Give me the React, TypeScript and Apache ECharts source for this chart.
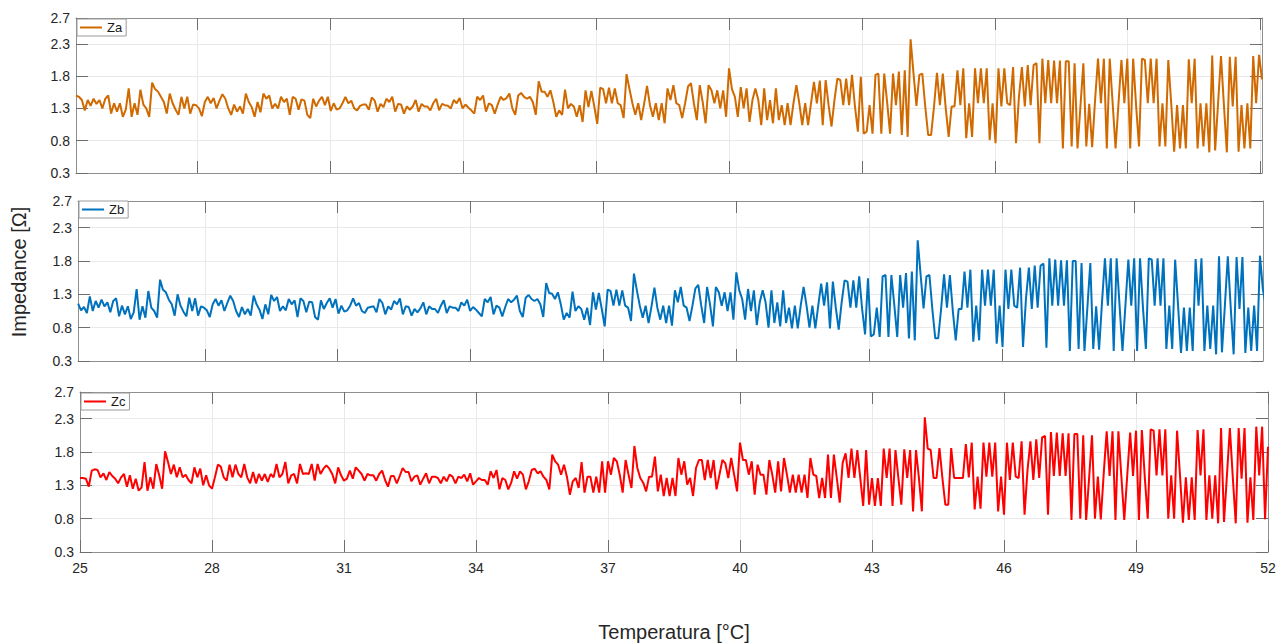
import React, { useEffect, useRef } from "react";
import * as echarts from "echarts";

// ---- tick labels ----
const xTicksA = [28, 31, 34, 37, 40, 43, 46, 49, 52];
const xTicksB = [28, 31, 34, 37, 40, 43, 46, 49];
const xTicksC = [25, 28, 31, 34, 37, 40, 43, 46, 49, 52];

// visible temperature range of each panel [°C]
const rangeA = [25.27, 52.03];
const rangeB = [25.135, 51.9];
const rangeC = [25, 52];

const seriesNames = ["Za", "Zb", "Zc"];

// ---- values, 15 samples per °C (each row = 1 °C) ----
const za = [
  1.50,1.48,1.43,1.27,1.43,1.34,1.45,1.37,1.43,1.30,1.45,1.50,1.22,1.38,1.25,
  1.38,1.17,1.28,1.61,1.17,1.38,1.20,1.59,1.36,1.30,1.17,1.70,1.60,1.56,1.48,
  1.40,1.22,1.53,1.38,1.28,1.20,1.48,1.30,1.48,1.22,1.36,1.35,1.30,1.18,1.40,
  1.48,1.38,1.46,1.30,1.42,1.52,1.45,1.30,1.20,1.36,1.25,1.33,1.22,1.53,1.40,
  1.32,1.17,1.40,1.24,1.53,1.45,1.50,1.30,1.37,1.30,1.48,1.40,1.45,1.20,1.48,
  1.45,1.28,1.44,1.42,1.20,1.15,1.45,1.33,1.42,1.48,1.35,1.48,1.26,1.38,1.28,
  1.30,1.38,1.48,1.38,1.42,1.30,1.27,1.34,1.36,1.36,1.28,1.47,1.42,1.25,1.37,
  1.32,1.45,1.40,1.48,1.25,1.37,1.36,1.22,1.33,1.28,1.33,1.43,1.25,1.37,1.33,
  1.33,1.27,1.38,1.45,1.27,1.37,1.35,1.34,1.30,1.43,1.38,1.46,1.30,1.36,1.31,
  1.27,1.22,1.48,1.43,1.50,1.25,1.38,1.35,1.22,1.36,1.48,1.43,1.46,1.53,1.30,
  1.20,1.50,1.54,1.48,1.45,1.48,1.40,1.20,1.72,1.56,1.56,1.48,1.58,1.40,1.17,
  1.27,1.20,1.59,1.30,1.37,1.33,1.17,1.35,1.09,1.58,1.32,1.57,1.33,1.06,1.62,
  1.60,1.38,1.62,1.38,1.61,1.38,1.35,1.15,1.83,1.60,1.38,1.20,1.38,1.12,1.37,
  1.65,1.35,1.17,1.38,1.12,1.38,1.07,1.61,1.43,1.66,1.38,1.35,1.15,1.38,1.64,
  1.69,1.38,1.12,1.66,1.40,1.07,1.66,1.58,1.38,1.58,1.30,1.58,1.17,1.92,1.60,
  1.48,1.17,1.63,1.30,1.61,1.09,1.43,1.61,1.43,1.04,1.61,1.12,1.43,1.07,1.61,
  1.12,1.35,1.04,1.38,1.04,1.38,1.66,1.38,1.04,1.38,1.04,1.38,1.71,1.38,1.73,
  1.04,1.74,1.35,1.02,1.43,1.76,1.74,1.35,1.76,1.35,1.82,1.33,0.94,1.79,0.91,
  0.94,1.35,0.91,1.82,1.84,0.91,1.84,1.39,0.91,1.84,1.35,1.87,0.89,1.89,0.86,
  2.37,1.84,1.34,1.82,1.84,1.33,0.89,0.89,1.33,1.85,1.35,1.84,1.30,0.86,1.33,
  1.33,1.89,1.35,1.92,0.84,1.38,0.86,1.92,1.38,1.92,1.38,1.92,0.81,1.38,0.76,
  1.92,1.33,1.92,1.38,1.35,1.94,0.76,1.48,1.94,1.33,1.97,1.35,1.97,2.00,0.76,
  2.07,1.38,2.05,1.38,2.04,1.38,2.04,0.68,2.03,2.03,0.71,2.00,0.68,1.33,2.00,
  0.71,1.37,0.70,1.43,2.07,1.38,2.07,0.68,2.07,1.38,0.68,1.38,2.05,1.38,2.07,
  0.68,2.07,1.35,0.71,2.07,2.05,1.38,2.07,1.38,2.07,0.71,1.38,0.71,2.05,1.38,
  0.63,1.35,0.68,1.35,0.68,2.06,1.38,2.07,0.68,1.38,0.71,1.38,0.62,2.12,0.65,
  1.38,2.11,1.35,0.62,2.10,1.33,2.10,0.63,1.35,0.68,1.38,0.68,2.11,1.38,2.13,
  1.75,
];

const zb = [
  1.16,1.06,
  1.11,1.02,1.27,1.05,1.20,1.10,1.22,1.12,1.18,1.03,1.20,1.24,0.97,1.13,1.00,
  1.12,0.93,1.03,1.38,0.92,1.12,0.95,1.35,1.10,1.05,0.95,1.52,1.37,1.33,1.22,
  1.15,0.98,1.30,1.13,1.04,0.97,1.25,1.05,1.24,0.98,1.12,1.10,1.06,0.96,1.15,
  1.23,1.13,1.21,1.05,1.17,1.28,1.20,1.05,0.96,1.11,1.00,1.08,0.98,1.28,1.15,
  1.07,0.93,1.15,1.00,1.29,1.20,1.26,1.05,1.12,1.06,1.23,1.15,1.21,0.96,1.24,
  1.20,1.03,1.19,1.18,0.96,0.92,1.21,1.08,1.17,1.24,1.10,1.23,1.01,1.13,1.04,
  1.06,1.13,1.24,1.13,1.17,1.05,1.02,1.10,1.11,1.12,1.03,1.23,1.17,1.00,1.12,
  1.07,1.20,1.15,1.24,1.00,1.12,1.11,0.98,1.08,1.03,1.09,1.18,1.00,1.12,1.08,
  1.08,1.02,1.13,1.21,1.02,1.12,1.10,1.10,1.05,1.18,1.13,1.22,1.05,1.11,1.07,
  1.02,0.97,1.23,1.18,1.26,1.00,1.13,1.10,0.97,1.11,1.23,1.18,1.22,1.28,1.05,
  0.96,1.25,1.29,1.23,1.20,1.23,1.15,0.96,1.47,1.32,1.31,1.23,1.33,1.15,0.92,
  1.02,0.95,1.34,1.05,1.12,1.08,0.92,1.10,0.84,1.33,1.07,1.32,1.08,0.82,1.37,
  1.35,1.13,1.37,1.13,1.36,1.13,1.10,0.90,1.61,1.36,1.13,0.95,1.13,0.87,1.12,
  1.40,1.10,0.92,1.13,0.87,1.13,0.83,1.36,1.18,1.41,1.13,1.10,0.90,1.13,1.39,
  1.44,1.13,0.87,1.41,1.15,0.82,1.41,1.33,1.13,1.33,1.05,1.33,0.92,1.63,1.36,
  1.23,0.92,1.38,1.05,1.36,0.84,1.18,1.36,1.18,0.80,1.36,0.87,1.18,0.82,1.36,
  0.87,1.10,0.79,1.13,0.79,1.13,1.41,1.13,0.80,1.13,0.79,1.13,1.46,1.13,1.48,
  0.79,1.49,1.10,0.77,1.18,1.51,1.49,1.10,1.51,1.10,1.57,1.08,0.70,1.54,0.67,
  0.70,1.10,0.66,1.57,1.59,0.66,1.59,1.14,0.66,1.59,1.10,1.62,0.64,1.64,0.61,
  2.11,1.59,1.09,1.57,1.59,1.08,0.64,0.64,1.08,1.60,1.10,1.59,1.05,0.61,1.08,
  1.08,1.64,1.10,1.67,0.59,1.13,0.61,1.67,1.13,1.67,1.13,1.67,0.56,1.13,0.51,
  1.67,1.08,1.67,1.13,1.10,1.70,0.51,1.23,1.70,1.08,1.73,1.10,1.73,1.76,0.50,
  1.84,1.13,1.82,1.13,1.81,1.13,1.81,0.45,1.80,1.80,0.48,1.77,0.45,1.10,1.77,
  0.48,1.12,0.47,1.18,1.84,1.13,1.84,0.45,1.84,1.13,0.45,1.13,1.82,1.13,1.84,
  0.45,1.84,1.10,0.48,1.84,1.82,1.13,1.84,1.13,1.84,0.48,1.13,0.48,1.82,1.13,
  0.42,1.10,0.45,1.10,0.45,1.83,1.13,1.84,0.45,1.13,0.48,1.13,0.40,1.87,0.43,
  1.13,1.87,1.10,0.40,1.86,1.08,1.86,0.42,1.10,0.45,1.13,0.45,1.88,1.37,1.13,
  1.37,
];

const zc = [
  1.41,1.41,1.40,1.28,1.52,1.54,1.53,1.42,1.48,1.38,1.50,1.44,1.40,1.33,1.42,
  1.47,1.28,1.45,1.25,1.40,1.22,1.27,1.65,1.22,1.42,1.25,1.62,1.45,1.25,1.81,
  1.65,1.47,1.61,1.42,1.57,1.42,1.46,1.38,1.33,1.57,1.42,1.55,1.30,1.45,1.30,
  1.25,1.42,1.61,1.58,1.42,1.37,1.61,1.42,1.61,1.47,1.42,1.62,1.42,1.33,1.50,
  1.33,1.47,1.37,1.47,1.35,1.47,1.42,1.62,1.42,1.47,1.65,1.33,1.45,1.47,1.33,
  1.62,1.47,1.48,1.47,1.62,1.37,1.62,1.47,1.55,1.60,1.55,1.47,1.33,1.57,1.45,
  1.37,1.40,1.52,1.40,1.57,1.52,1.47,1.37,1.47,1.45,1.45,1.37,1.47,1.52,1.38,
  1.28,1.44,1.44,1.33,1.44,1.56,1.50,1.50,1.36,1.43,1.45,1.31,1.40,1.48,1.33,
  1.43,1.43,1.41,1.33,1.43,1.36,1.46,1.43,1.33,1.43,1.41,1.46,1.36,1.48,1.31,
  1.36,1.41,1.38,1.38,1.31,1.51,1.41,1.53,1.24,1.41,1.38,1.24,1.34,1.51,1.40,
  1.51,1.46,1.24,1.36,1.53,1.55,1.48,1.51,1.43,1.38,1.24,1.76,1.66,1.61,1.46,
  1.61,1.43,1.16,1.36,1.41,1.26,1.65,1.19,1.43,1.43,1.19,1.43,1.19,1.66,1.19,
  1.66,1.46,1.71,1.66,1.46,1.19,1.68,1.46,1.26,1.89,1.56,1.41,1.34,1.21,1.43,
  1.43,1.73,1.21,1.46,1.14,1.41,1.14,1.41,1.14,1.71,1.46,1.66,1.31,1.41,1.14,
  1.56,1.68,1.68,1.38,1.68,1.41,1.68,1.24,1.46,1.68,1.63,1.41,1.71,1.46,1.21,
  1.94,1.68,1.68,1.46,1.66,1.16,1.61,1.46,1.46,1.16,1.68,1.46,1.19,1.66,1.21,
  1.71,1.46,1.19,1.46,1.19,1.46,1.19,1.46,1.11,1.71,1.46,1.44,1.11,1.41,1.11,
  1.76,1.11,1.76,1.41,1.04,1.64,1.78,1.41,1.85,1.41,1.83,1.41,0.99,1.83,1.01,
  1.41,0.99,1.41,0.99,1.85,1.41,1.85,0.99,1.83,1.41,1.01,1.84,1.41,1.83,0.91,
  1.83,1.41,0.91,2.32,1.85,1.83,1.41,1.41,1.86,1.41,1.01,1.01,1.86,1.41,1.41,
  1.41,1.41,1.92,1.42,1.94,0.94,1.43,0.95,1.94,1.43,1.94,1.43,1.94,0.91,1.43,
  0.86,1.94,1.38,1.94,1.43,1.41,1.96,0.86,1.52,1.96,1.38,1.99,1.41,2.02,2.04,
  0.86,2.10,1.44,2.09,1.44,2.08,1.44,2.08,0.78,2.07,2.07,0.80,2.05,0.78,1.40,
  2.05,0.80,1.43,0.79,1.48,2.11,1.44,2.11,0.78,2.11,1.44,0.78,1.44,2.09,1.44,
  2.12,0.78,2.13,1.42,0.80,2.14,2.12,1.45,2.14,1.45,2.14,0.80,1.45,0.80,2.12,
  1.45,0.74,1.42,0.78,1.42,0.78,2.13,1.45,2.14,0.78,1.45,0.80,1.45,0.73,2.16,
  0.75,1.45,2.16,1.42,0.73,2.16,1.40,2.16,0.74,1.42,0.78,2.18,1.45,2.18,0.79,
  1.88,
];

// sampling grids (temperature of each sample)
const stepAB = (rangeA[1] - rangeA[0]) / (za.length - 1);
const startB = rangeA[0] - 2 * stepAB; // Zb has two leading samples
const stepC = (rangeC[1] - rangeC[0]) / (zc.length - 1);

const FONT = "'Liberation Sans', Arial, Helvetica, sans-serif";
const BORDER = "#8f8f8f";
const TICK = "#6e6e6e";
const GRIDLINE = "#e9e9e9";
const TXT = "#262626";
const COLORS = ["#D06A00", "#0072BD", "#FF0000"];

export default function App() {
  const ref = useRef<HTMLDivElement>(null);

  useEffect(() => {
    if (!ref.current) return;
    const chart = echarts.init(ref.current, null, { renderer: "svg" });

    const grids = [
      { left: 76, top: 18, width: 1186, height: 155 },
      { left: 78, top: 201, width: 1185, height: 160 },
      { left: 80, top: 392, width: 1188, height: 160 },
    ];
    const ranges = [rangeA, rangeB, rangeC];
    const ticks = [xTicksA, xTicksB, xTicksC];

    const xAxes: any[] = [];
    const yAxes: any[] = [];
    grids.forEach((_, i) => {
      const common = {
        type: "value",
        gridIndex: i,
        min: ranges[i][0],
        max: ranges[i][1],
        axisLine: { show: true, onZero: false, lineStyle: { color: BORDER, width: 1 } },
      };
      xAxes.push({
        ...common,
        position: "bottom",
        axisTick: { show: true, inside: true, length: 12, customValues: ticks[i], lineStyle: { color: TICK } },
        axisLabel: {
          show: i === 2,
          customValues: ticks[i],
          margin: 9,
          fontSize: 14,
          color: TXT,
          fontFamily: FONT,
        },
        splitLine: { show: true, lineStyle: { color: GRIDLINE, width: 1 } },
      });
      xAxes.push({
        ...common,
        position: "top",
        axisTick: { show: true, inside: true, length: 12, customValues: ticks[i], lineStyle: { color: TICK } },
        axisLabel: { show: false },
        splitLine: { show: false },
      });
      const ycommon = {
        type: "value",
        gridIndex: i,
        min: 0.3,
        max: 2.7,
        interval: 0.5,
        axisLine: { show: true, onZero: false, lineStyle: { color: BORDER, width: 1 } },
        axisTick: { show: true, inside: true, length: 12, lineStyle: { color: TICK } },
      };
      yAxes.push({
        ...ycommon,
        position: "left",
        axisLabel: {
          show: true,
          margin: 6,
          fontSize: 14,
          color: TXT,
          fontFamily: FONT,
          showMinLabel: true,
          showMaxLabel: true,
          formatter: (v: number) => v.toFixed(1),
        },
        splitLine: { show: true, lineStyle: { color: GRIDLINE, width: 1 } },
      });
      yAxes.push({
        ...ycommon,
        position: "right",
        axisLabel: { show: false },
        splitLine: { show: false },
      });
    });

    const dataA = za.map((v, i) => [rangeA[0] + i * stepAB, v]);
    const dataB = zb.map((v, i) => [startB + i * stepAB, v]);
    const dataC = zc.map((v, i) => [rangeC[0] + i * stepC, v]);
    const datas = [dataA, dataB, dataC];

    const series = datas.map((d, i) => ({
      name: seriesNames[i],
      type: "line",
      xAxisIndex: i * 2,
      yAxisIndex: i * 2,
      data: d,
      showSymbol: false,
      symbol: "none",
      color: COLORS[i],
      lineStyle: { color: COLORS[i], width: 2 },
      clip: true,
      z: 3,
    }));

    const legendPos = [
      { left: 77, top: 19 },
      { left: 79, top: 201 },
      { left: 81, top: 393 },
    ];
    const legends = seriesNames.map((n, i) => ({
      data: [n],
      ...legendPos[i],
      orient: "horizontal",
      backgroundColor: "#ffffff",
      borderColor: "#9a9a9a",
      borderWidth: 1,
      borderRadius: 0,
      padding: [2, 4, 2, 3],
      itemWidth: 22,
      itemHeight: 2,
      itemGap: 0,
      icon: "rect",
      selectedMode: false,
      textStyle: { fontSize: 13, color: "#1a1a1a", fontFamily: FONT },
    }));

    chart.setOption({
      animation: false,
      backgroundColor: "#ffffff",
      grid: grids.map((g) => ({ ...g, outerBoundsMode: "none", containLabel: false })),
      xAxis: xAxes,
      yAxis: yAxes,
      legend: legends,
      series,
      graphic: [
        {
          type: "text",
          x: 19,
          y: 272,
          rotation: Math.PI / 2,
          style: {
            text: "Impedance [Ω]",
            fontSize: 20,
            fontFamily: FONT,
            fill: TXT,
            align: "center",
            verticalAlign: "middle",
          },
        },
        {
          type: "text",
          x: 674,
          y: 632,
          style: {
            text: "Temperatura [°C]",
            fontSize: 20,
            fontFamily: FONT,
            fill: TXT,
            align: "center",
            verticalAlign: "middle",
          },
        },
      ],
    });

    return () => chart.dispose();
  }, []);

  return (
    <div
      ref={ref}
      style={{ position: "fixed", left: 0, top: 0, width: 1284, height: 644, background: "#fff" }}
    />
  );
}
